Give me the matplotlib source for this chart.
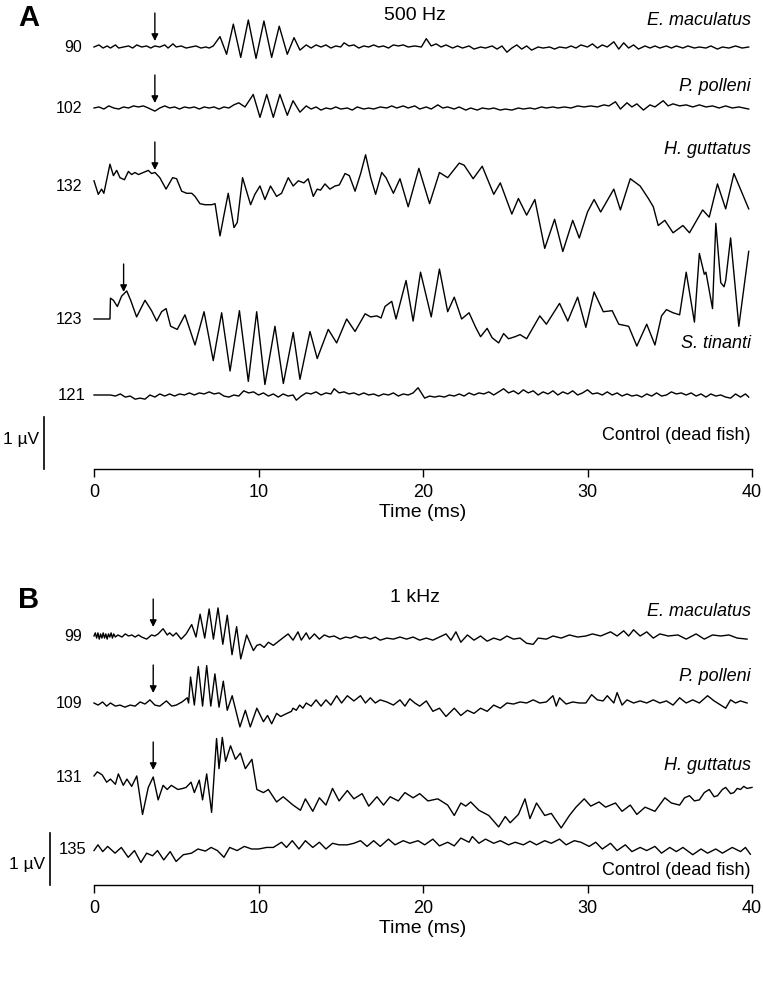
import matplotlib.pyplot as plt

plt.rcParams['font.family'] = ['Liberation Sans', 'DejaVu Sans']
NARROW = ['Liberation Sans Narrow', 'Liberation Sans', 'DejaVu Sans']
REGULAR = ['Liberation Sans', 'DejaVu Sans']

W, H = 763, 987

# traces: (time in ms, deflection in 0.01 uV) read at the turning points

# ---- A: 500 Hz ----
emac_500 = [(0.0,0),(0.3,4),(0.55,-2),(0.8,2),(1.0,-2),(1.3,4),(1.5,-2),(1.8,0),(2.1,2),(2.35,-2),(2.6,4),(2.9,0),
            (3.2,2),(3.45,-2),(3.7,2),(4.0,0),(4.3,4),(4.5,-2),(4.8,6),(5.0,0),(5.3,2),(5.6,-2),(5.9,0),(6.2,2),(6.5,-2),
            (6.8,0),(7.0,-2),(7.25,2),(7.66,20),(8.06,-14),(8.47,44),(8.92,-20),(9.38,52),(9.85,-22),(10.33,50),(10.8,-20),
            (11.26,40),(11.75,-14),(12.16,18),(12.52,-6),(12.9,4),(13.2,-2),(13.5,4),(13.8,0),(14.1,4),(14.4,-2),(14.7,2),
            (15.0,0),(15.2,8),(15.5,2),(15.8,4),(16.1,-2),(16.4,2),(16.7,0),(17.0,4),(17.3,0),(17.6,2),(17.9,-2),(18.2,4),
            (18.5,2),(18.8,4),(19.1,0),(19.5,2),(19.9,0),(20.2,16),(20.5,2),(20.8,6),(21.1,0),(21.4,4),(21.8,-2),(22.1,2),
            (22.4,-2),(22.8,2),(23.1,-4),(23.5,0),(23.8,-2),(24.2,2),(24.5,-4),(24.8,2),(25.1,-10),(25.4,-2),(25.7,4),
            (26.0,-4),(26.3,2),(26.6,-6),(27.0,0),(27.3,-2),(27.7,0),(28.0,-4),(28.3,0),(28.7,-2),(29.0,2),(29.3,-2),
            (29.6,4),(30.0,0),(30.3,6),(30.6,-2),(30.9,4),(31.2,0),(31.6,10),(31.9,-4),(32.2,8),(32.5,-2),(32.8,4),
            (33.1,-4),(33.5,2),(33.8,-2),(34.1,2),(34.4,-2),(34.8,2),(35.1,-2),(35.4,2),(35.8,-2),(36.1,2),(36.5,-2),
            (36.8,0),(37.2,-2),(37.5,2),(37.9,-4),(38.2,0),(38.6,-2),(39.0,2),(39.4,-2),(39.8,0)]

ppol_500 = [(0.0,0),(0.3,2),(0.6,-2),(0.9,4),(1.2,0),(1.5,-2),(1.8,2),(2.1,0),(2.4,4),(2.7,2),(3.0,4),(3.3,0),(3.7,-6),
            (4.0,0),(4.3,4),(4.6,0),(4.9,2),(5.2,-2),(5.5,2),(5.8,0),(6.1,2),(6.4,-2),(6.7,2),(7.0,0),(7.3,2),(7.6,-2),
            (7.9,2),(8.2,0),(8.5,6),(8.8,10),(9.18,2),(9.68,26),(10.09,-18),(10.5,26),(10.9,-18),(11.3,26),(11.75,-14),
            (12.1,14),(12.52,-8),(12.9,4),(13.2,-2),(13.5,2),(13.8,-4),(14.1,0),(14.4,-2),(14.7,2),(15.0,-2),(15.4,0),
            (15.7,-4),(16.0,2),(16.4,-2),(16.7,0),(17.0,-2),(17.4,2),(17.8,0),(18.1,4),(18.4,0),(18.8,4),(19.1,0),(19.5,4),
            (19.8,-2),(20.2,2),(20.5,-2),(20.9,6),(21.2,0),(21.5,2),(21.9,-2),(22.2,2),(22.6,-4),(22.9,0),(23.3,-4),
            (23.6,0),(24.0,-2),(24.3,0),(24.7,-4),(25.0,-2),(25.4,-4),(25.8,0),(26.1,-2),(26.5,0),(26.8,-2),(27.2,2),
            (27.5,0),(27.9,2),(28.2,0),(28.6,2),(29.0,0),(29.4,4),(29.8,2),(30.2,4),(30.6,2),(31.0,6),(31.3,4),(31.7,12),
            (32.0,-2),(32.4,10),(32.7,2),(33.0,8),(33.4,-4),(33.8,6),(34.1,2),(34.6,14),(34.9,4),(35.2,8),(35.6,4),
            (36.0,6),(36.4,2),(36.8,6),(37.2,2),(37.6,4),(38.0,0),(38.4,4),(38.8,0),(39.2,2),(39.8,-2)]

hgut_500 = [(0.0,10),(0.26,-16),(0.46,-6),(0.6,-14),(0.97,42),(1.18,20),(1.38,30),(1.58,16),(1.85,12),(2.09,28),
            (2.29,22),(2.49,26),(2.7,22),(3.0,26),(3.3,30),(3.5,24),(3.71,26),(4.0,16),(4.38,-6),(4.78,16),(5.02,14),
            (5.33,-10),(5.63,-14),(5.94,-14),(6.14,-20),(6.44,-34),(6.75,-36),(7.15,-36),(7.36,-34),(7.66,-96),(7.9,-56),
            (8.16,-14),(8.51,-80),(8.71,-70),(9.03,16),(9.52,-36),(9.78,-16),(10.09,0),(10.39,-26),(10.73,0),(11.1,-20),
            (11.4,-14),(11.81,16),(12.11,0),(12.42,10),(12.76,6),(13.02,14),(13.33,-20),(13.57,-6),(13.77,-8),(14.04,4),
            (14.34,-6),(14.65,0),(14.91,2),(15.26,24),(15.52,20),(15.87,-10),(16.21,24),(16.51,60),(16.82,16),(17.12,-16),
            (17.49,26),(17.75,16),(18.2,-14),(18.6,14),(19.1,-40),(19.75,34),(20.4,-34),(21.0,26),(21.5,16),(22.2,44),
            (22.5,40),(23.05,14),(23.6,38),(24.3,-16),(24.7,6),(25.4,-54),(25.8,-24),(26.3,-56),(26.8,-26),(27.4,-120),
            (28.0,-64),(28.5,-126),(29.1,-66),(29.5,-100),(30.0,-50),(30.4,-26),(30.8,-50),(31.6,-6),(32.0,-46),(32.6,14),
            (33.2,0),(33.7,-24),(34.0,-40),(34.3,-76),(34.7,-66),(35.2,-90),(35.8,-76),(36.2,-90),(37.0,-46),(37.4,-60),
            (37.9,4),(38.4,-44),(38.9,24),(39.8,-44)]

stin_500 = [(0.0,0),(0.97,0),(1.0,40),(1.18,36),(1.42,24),(1.68,44),(1.99,54),(2.23,36),(2.59,4),(3.1,36),(3.5,16),
            (3.81,-4),(4.11,14),(4.38,20),(4.66,-14),(5.06,-20),(5.53,8),(6.14,-50),(6.69,14),(7.25,-80),(7.76,12),
            (8.27,-100),(8.84,16),(9.38,-120),(9.89,14),(10.39,-126),(11.0,-14),(11.51,-124),(12.11,-26),(12.52,-116),
            (13.13,-24),(13.57,-76),(14.24,-20),(14.75,-46),(15.36,0),(15.87,-24),(16.48,10),(16.82,4),(17.19,6),
            (17.45,2),(17.69,24),(18.1,34),(18.36,0),(18.97,74),(19.4,-4),(19.85,90),(20.5,4),(21.0,96),(21.5,14),
            (21.9,42),(22.35,0),(22.8,12),(23.2,-16),(23.5,-34),(23.9,-18),(24.2,-36),(24.6,-46),(24.9,-28),(25.2,-38),
            (25.6,-34),(25.9,-30),(26.3,-38),(27.1,6),(27.5,-10),(28.3,30),(28.8,-4),(29.4,42),(29.9,-16),(30.4,52),
            (30.96,14),(31.5,16),(31.9,-10),(32.5,-14),(33.0,-52),(33.6,-10),(34.1,-50),(34.5,6),(34.8,18),(35.2,12),
            (35.6,8),(36.0,90),(36.5,-6),(36.8,126),(37.1,86),(37.2,90),(37.6,20),(37.8,184),(38.1,70),(38.3,62),
            (38.4,74),(38.7,156),(39.2,-14),(39.8,130)]

ctrl_500 = [(0.0,0),(1.0,0),(1.3,-2),(1.6,2),(1.9,-4),(2.2,-2),(2.5,-8),(2.8,-6),(3.1,-8),(3.4,0),(3.7,-4),(4.0,2),
            (4.3,-2),(4.6,2),(4.9,-2),(5.2,2),(5.5,0),(5.8,4),(6.1,0),(6.4,4),(6.7,2),(7.0,6),(7.3,2),(7.6,4),(7.9,-2),
            (8.2,-4),(8.5,0),(8.8,-2),(9.1,8),(9.4,4),(9.7,6),(10.0,0),(10.3,4),(10.6,-2),(10.9,2),(11.2,-4),(11.5,2),
            (11.8,-2),(12.1,0),(12.3,-10),(12.6,-2),(12.9,4),(13.2,2),(13.5,6),(13.8,0),(14.1,4),(14.4,2),(14.6,12),
            (14.9,4),(15.2,6),(15.5,2),(15.8,4),(16.1,0),(16.4,4),(16.7,0),(17.0,2),(17.3,-2),(17.6,2),(17.9,0),(18.2,4),
            (18.5,-2),(18.8,2),(19.1,0),(19.4,4),(19.7,14),(20.1,-6),(20.4,-2),(20.7,-4),(21.0,-2),(21.3,-4),(21.6,0),
            (21.9,-2),(22.2,2),(22.5,-2),(22.8,4),(23.1,0),(23.4,4),(23.7,2),(24.0,6),(24.3,0),(24.6,6),(24.9,12),
            (25.2,4),(25.5,8),(25.8,2),(26.1,10),(26.4,4),(26.7,8),(27.0,0),(27.3,6),(27.6,2),(27.9,8),(28.2,0),(28.5,6),
            (28.8,2),(29.1,8),(29.4,0),(29.7,4),(30.0,10),(30.3,2),(30.6,4),(30.9,0),(31.2,6),(31.5,0),(31.8,4),(32.1,-2),
            (32.4,2),(32.7,-2),(33.0,0),(33.3,-4),(33.6,2),(33.9,-2),(34.2,4),(34.5,-2),(34.8,0),(35.1,6),(35.4,2),
            (35.7,4),(36.0,0),(36.3,4),(36.6,-2),(36.9,2),(37.2,-4),(37.5,2),(37.8,-2),(38.1,0),(38.4,-4),(38.7,-6),
            (39.0,2),(39.3,-4),(39.6,2),(39.8,-4)]

# ---- B: 1 kHz ----
emac_1k = [(0.0,0),(0.08,6),(0.16,-4),(0.24,6),(0.32,-6),(0.4,4),(0.48,-4),(0.56,6),(0.64,-4),(0.72,4),(0.8,-6),(0.88,4),
           (0.96,-2),(1.04,6),(1.12,-4),(1.2,4),(1.3,-2),(1.45,2),(1.7,-2),(1.9,4),(2.1,0),(2.3,2),(2.5,-2),(2.7,2),
           (2.9,-2),(3.2,-6),(3.5,2),(3.7,0),(3.9,4),(4.2,14),(4.45,2),(4.6,6),(4.8,0),(5.0,6),(5.3,-6),(5.6,4),(5.94,22),
           (6.2,-2),(6.45,42),(6.73,-4),(7.0,52),(7.26,-6),(7.54,54),(7.83,-16),(8.1,40),(8.39,-36),(8.67,18),(8.92,-44),
           (9.28,2),(9.69,-28),(9.9,-18),(10.1,-16),(10.34,-22),(10.6,-12),(10.9,-18),(11.3,-8),(11.55,-2),(11.8,4),
           (12.1,-8),(12.4,8),(12.6,-8),(12.9,6),(13.1,-6),(13.4,4),(13.7,-6),(14.0,2),(14.3,-2),(14.6,0),(14.96,-6),
           (15.3,-2),(15.6,-4),(15.9,0),(16.2,-4),(16.5,-2),(16.8,-6),(17.1,-2),(17.4,-8),(17.8,-4),(18.2,-6),(18.6,-2),
           (19.0,-6),(19.4,-2),(19.8,-8),(20.2,-4),(20.6,-8),(21.0,-2),(21.4,4),(21.7,-8),(22.0,8),(22.3,-12),(22.7,2),
           (23.1,-8),(23.5,0),(23.9,-10),(24.3,-4),(24.7,-8),(25.1,0),(25.5,-6),(25.9,-4),(26.3,-14),(26.7,-16),(27.0,-4),
           (27.5,-6),(27.9,0),(28.4,-4),(28.9,2),(29.4,-2),(29.9,0),(30.3,4),(30.8,0),(31.4,8),(31.8,0),(32.2,10),
           (32.5,0),(32.8,12),(33.2,0),(33.6,8),(34.0,-4),(34.4,4),(34.9,0),(35.5,2),(36.0,-6),(36.6,4),(37.1,-6),
           (37.6,2),(38.1,0),(38.6,2),(39.1,-4),(39.7,-6)]

ppol_1k = [(0.0,0),(0.25,-4),(0.52,2),(0.77,-6),(1.0,0),(1.3,-6),(1.58,-4),(1.88,-8),(2.2,-4),(2.5,-6),(2.8,2),(3.1,-2),
           (3.4,6),(3.7,-4),(4.0,-6),(4.4,4),(4.72,-6),(5.0,-4),(5.35,2),(5.67,10),(5.75,0),(5.87,50),(6.1,-4),(6.34,70),
           (6.6,-6),(6.85,72),(7.1,-6),(7.35,56),(7.6,-8),(7.86,42),(8.1,-14),(8.4,14),(8.87,-46),(9.2,-14),(9.5,-46),
           (9.9,-10),(10.3,-36),(10.55,-24),(10.8,-40),(11.1,-20),(11.35,-26),(11.6,-22),(12.0,-16),(12.1,-10),(12.3,-14),
           (12.5,-4),(12.7,-10),(12.9,0),(13.2,-6),(13.5,6),(13.8,-6),(14.1,6),(14.4,-4),(14.75,14),(15.05,0),(15.4,14),
           (15.8,4),(16.2,14),(16.5,0),(16.8,10),(17.1,0),(17.4,6),(17.8,2),(18.2,-4),(18.6,6),(18.9,-6),(19.2,8),
           (19.5,0),(19.8,-6),(20.2,4),(20.6,-16),(21.0,-10),(21.4,-26),(21.9,-10),(22.3,-24),(22.7,-14),(23.1,-20),
           (23.5,-10),(23.9,-16),(24.3,-4),(24.7,-10),(25.1,0),(25.5,-2),(25.9,2),(26.3,0),(26.7,6),(27.1,0),(27.5,2),
           (27.9,14),(28.1,-6),(28.3,10),(28.7,-2),(29.1,2),(29.5,0),(29.9,0),(30.25,16),(30.6,6),(30.95,4),(31.2,14),
           (31.6,0),(31.8,20),(32.1,-4),(32.4,6),(32.8,0),(33.2,4),(33.6,0),(34.0,6),(34.4,0),(34.8,4),(35.2,-4),
           (35.6,10),(36.0,0),(36.4,6),(36.8,0),(37.3,14),(37.7,4),(38.1,-4),(38.4,-10),(38.7,6),(39.0,0),(39.3,4),(39.7,0)]

hgut_1k = [(0.0,2),(0.2,10),(0.5,4),(0.77,-10),(1.0,-4),(1.3,-14),(1.48,6),(1.78,-16),(2.0,-4),(2.29,-18),(2.6,2),
           (2.95,-72),(3.3,-20),(3.6,0),(3.9,-44),(4.2,-16),(4.45,-24),(4.7,-16),(4.9,-20),(5.1,-24),(5.4,-22),(5.6,-20),
           (5.9,-10),(6.1,-30),(6.4,-6),(6.6,-44),(6.85,6),(7.15,-68),(7.45,74),(7.6,16),(7.8,76),(8.0,30),(8.3,60),
           (8.6,34),(8.9,46),(9.2,16),(9.6,34),(9.9,-24),(10.3,-30),(10.6,-24),(11.1,-48),(11.5,-38),(12.1,-54),
           (12.55,-64),(12.85,-42),(13.3,-66),(13.7,-40),(14.1,-54),(14.5,-22),(14.9,-46),(15.4,-26),(15.8,-42),
           (16.3,-32),(16.7,-56),(17.2,-38),(17.6,-54),(18.0,-38),(18.5,-46),(18.9,-30),(19.4,-40),(19.8,-32),(20.3,-46),
           (20.9,-42),(21.5,-54),(21.9,-74),(22.3,-50),(22.6,-56),(22.9,-48),(23.4,-64),(24.0,-74),(24.6,-96),(25.0,-76),
           (25.3,-88),(25.8,-72),(26.2,-42),(26.5,-80),(26.9,-50),(27.4,-74),(27.8,-70),(28.4,-98),(28.9,-74),(29.3,-58),
           (29.8,-42),(30.2,-56),(30.7,-48),(31.1,-58),(31.7,-50),(32.1,-66),(32.6,-54),(33.0,-72),(33.5,-58),(34.1,-66),
           (34.7,-40),(35.1,-50),(35.6,-54),(35.9,-40),(36.2,-36),(36.5,-46),(36.8,-44),(37.1,-30),(37.4,-24),(37.7,-38),
           (37.9,-36),(38.2,-24),(38.4,-20),(38.7,-32),(38.9,-30),(39.1,-22),(39.3,-24),(39.5,-18),(39.7,-22),(40.0,-20)]

ctrl_1k = [(0.0,-3),(0.24,8),(0.53,-5),(0.83,5),(1.28,-8),(1.66,3),(2.08,-16),(2.46,-3),(2.85,-26),(3.2,-8),(3.56,-13),
           (3.86,-3),(4.24,-21),(4.63,-5),(4.99,-24),(5.43,-11),(5.93,-8),(6.32,0),(6.77,-4),(7.12,3),(7.5,-3),(7.9,-16),
           (8.25,3),(8.7,-3),(9.14,5),(9.58,0),(10.0,0),(10.5,3),(10.9,3),(11.4,13),(11.7,3),(12.05,16),(12.46,0),
           (12.85,16),(13.3,3),(13.7,13),(14.1,0),(14.5,11),(14.9,8),(15.4,8),(15.8,11),(16.2,16),(16.6,5),(17.0,16),
           (17.4,5),(17.9,19),(18.3,8),(18.8,16),(19.2,11),(19.7,16),(20.1,8),(20.6,19),(21.0,6),(21.5,13),(21.9,6),
           (22.3,21),(22.8,13),(23.0,24),(23.4,11),(23.8,19),(24.3,11),(24.7,16),(25.2,8),(25.6,13),(26.1,8),(26.5,15),
           (26.9,8),(27.4,16),(27.8,11),(28.3,19),(28.7,8),(29.2,16),(29.6,13),(30.1,5),(30.5,13),(30.9,0),(31.4,11),
           (31.8,-3),(32.3,8),(32.7,-5),(33.2,3),(33.6,-3),(34.1,5),(34.5,-8),(35.0,3),(35.4,-5),(35.8,3),(36.4,-11),
           (36.9,0),(37.3,-8),(37.8,0),(38.2,-8),(38.8,3),(39.3,-5),(39.6,3),(39.9,-10)]

names_500 = ['E. maculatus', 'P. polleni', 'H. guttatus', 'S. tinanti', 'Control (dead fish)']
thresh_500 = ['90', '102', '132', '123', '121']
onset_500 = [3.7, 3.7, 3.7, 1.8, None]
names_1k = ['E. maculatus', 'P. polleni', 'H. guttatus', 'Control (dead fish)']
thresh_1k = ['99', '109', '131', '135']
onset_1k = [3.6, 3.6, 3.6, None]
ticks = [0, 10, 20, 30, 40]


def draw_panel(fig, letter, freq, head_y, top, axis_y, px_uv, traces, names, thresh, onsets,
               base, name_y, arrow_tip, bar_x, bar_top, bar_label_y):
    # layout given in pixels of the 763x987 figure
    x0, x1 = 94, 752
    ax = fig.add_axes([x0 / W, 1 - axis_y / H, (x1 - x0) / W, (axis_y - top) / H])
    ax.set_xlim(0, 40)
    ax.set_ylim(0, (axis_y - top) / px_uv)
    ms_px = (x1 - x0) / 40.0

    def yd(py):
        return (axis_y - py) / px_uv

    def xd(px):
        return (px - x0) / ms_px

    for i, tr in enumerate(traces):
        t, v = zip(*tr)
        off = yd(base[i])
        ax.plot(t, [off + a / 100.0 for a in v], color='black', lw=1.0, clip_on=False,
                solid_joinstyle='round')
        control = names[i].startswith('Control')
        ax.text(xd(751), yd(name_y[i]), names[i], ha='right', va='center', fontsize=13,
                style='normal' if control else 'italic',
                family=NARROW if control else REGULAR)
        ax.text(xd(86) if control else xd(82), off, thresh[i], ha='right', va='center',
                fontsize=12 if control else 11.5, family=NARROW if control else REGULAR)
        if onsets[i] is not None:
            tip = yd(arrow_tip[i])
            ax.annotate('', xy=(onsets[i], tip), xytext=(onsets[i], tip + 28 / px_uv),
                        arrowprops=dict(arrowstyle='-|>', color='black', lw=1.0,
                                        mutation_scale=10, shrinkA=0, shrinkB=0))

    # 1 uV scale bar, bottom at the time axis
    bx = xd(bar_x)
    yb = yd(bar_top) - 1.0
    ax.plot([bx, bx], [yb, yb + 1.0], color='black', lw=1.2, clip_on=False)
    ax.text(xd(bar_x - 5), yd(bar_label_y), '1 µV', ha='right', va='center', fontsize=12.5, family=NARROW)

    ax.text(xd(415), yd(head_y), freq, ha='center', va='center', fontsize=14)
    fig.text(18 / W, 1 - (head_y + 2) / H, letter, ha='left', va='center', fontsize=21, fontweight='bold')

    for s in ['left', 'right', 'top']:
        ax.spines[s].set_visible(False)
    ax.spines['bottom'].set_linewidth(1.0)
    ax.set_yticks([])
    ax.set_xticks(ticks)
    ax.tick_params(axis='x', direction='out', length=6, width=1.0, labelsize=13, pad=4)
    for lab in ax.get_xticklabels():
        lab.set_family(NARROW)
    ax.set_xlabel('Time (ms)', fontsize=14, family=NARROW, labelpad=2)
    ax.patch.set_alpha(0)
    return ax


fig = plt.figure(figsize=(W / 100, H / 100), dpi=100)

draw_panel(fig, 'A', '500 Hz', 16, -3, 470, 52.0,
           [emac_500, ppol_500, hgut_500, stin_500, ctrl_500],
           names_500, thresh_500, onset_500,
           base=[48, 109, 187, 320, 396],
           name_y=[21, 87, 150, 344, 436],
           arrow_tip=[42, 104, 171, 293, None],
           bar_x=44, bar_top=418, bar_label_y=440)

draw_panel(fig, 'B', '1 kHz', 598, 583, 886, 52.0,
           [emac_1k, ppol_1k, hgut_1k, ctrl_1k],
           names_1k, thresh_1k, onset_1k,
           base=[637, 704, 778, 850],
           name_y=[612, 677, 766, 871],
           arrow_tip=[628, 694, 771, None],
           bar_x=50, bar_top=834, bar_label_y=865)

fig.savefig('out.png', dpi=100)
